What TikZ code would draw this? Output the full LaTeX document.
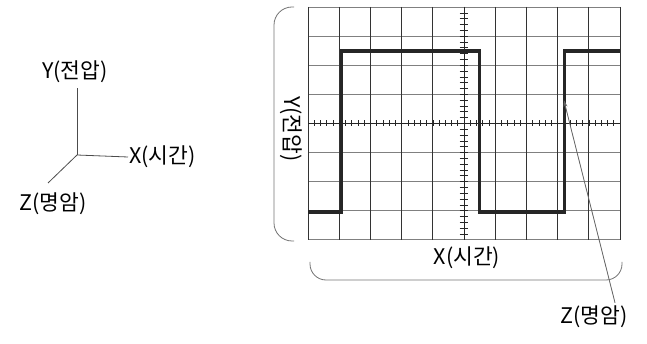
\documentclass[tikz,border=0pt]{standalone}
\usepackage{fontspec}
\setmainfont{Noto Sans CJK KR}
\usetikzlibrary{positioning, arrows.meta, calc}

\begin{document}
\begin{tikzpicture}[
  x=1pt, y=-1pt,
  lbl/.style={font=\fontsize{21.5}{24}\selectfont, inner sep=1pt},
  axisline/.style={draw=black!70, line width=0.8pt},
  gridv/.style={draw=black!80, line width=0.8pt},
  gridh/.style={draw=black!50, line width=0.8pt},
  tickmark/.style={draw=black!85, line width=0.6pt},
  wave/.style={draw=black!85, line width=3.6pt, line join=miter},
  brace/.style={draw=black!55, line width=0.8pt},
  ptr/.style={-{Stealth[length=7pt, width=4pt]}, draw=black!60, fill=black!60, line width=0.8pt},
]
\useasboundingbox (0,0) rectangle (647,344);

% ---- Axes key (left) ----
\coordinate (o) at (77,155);
\node[lbl] (ylab) at (75,72) {Y(전압)};
\node[lbl, anchor=west] (xlab) at (128,157) {X(시간)};
\node[lbl] (zlab) at (53,204) {Z(명암)};
\coordinate (zend) at (48,183);
\draw[axisline] (o) -- ($(o |- ylab.south)+(0,4)$);
\draw[axisline] (o) -- (xlab.west);
\draw[axisline] (o) -- (zend);

% ---- Screen grid ----
\begin{scope}[shift={(308,7)}, x=31.2pt, y=-29.1pt]
  \coordinate (tl) at (0,0);
  \coordinate (br) at (10,8);
  \foreach \i in {0,...,8}
    \draw[gridh] (0,\i) -- (10,\i);
  \foreach \i in {0,...,10}
    \draw[gridv] (\i,0) -- (\i,8);
  % centre axes with minor ticks
  \draw[tickmark] (0,4) -- (10,4);
  \draw[tickmark] (5,0) -- (5,8);
  \foreach \t in {1,...,49}
    \draw[tickmark] (\t/5,3.9) -- (\t/5,4.1);
  \foreach \t in {1,...,39}
    \draw[tickmark] (4.86,\t/5) -- (5.14,\t/5);
  % signal
  \draw[wave] (0,7.05) -- (1.07,7.05) -- (1.07,1.52) -- (5.5,1.52)
    -- (5.5,7.05) -- (8.22,7.05) -- (8.22,1.52) -- (10,1.52);
  \coordinate (zp) at (8.2,3.2);
\end{scope}

% ---- Brackets and labels ----
\draw[brace, rounded corners=18pt] (294,7) -- (274,7) -- (274,241) -- (294,241);
\draw[brace, rounded corners=16pt] (310,262) -- (310,280) -- (622,280) -- (622,262);
\node[lbl, rotate=-90] (yscr) at (291,129) {Y(전압)};
\node[lbl] (xscr) at (467,258) {X(시간)};
\node[lbl] (zscr) at (594,317) {Z(명암)};
\draw[ptr] ($(zscr.north)+(21,-2)$) -- (zp);

\end{tikzpicture}
\end{document}
